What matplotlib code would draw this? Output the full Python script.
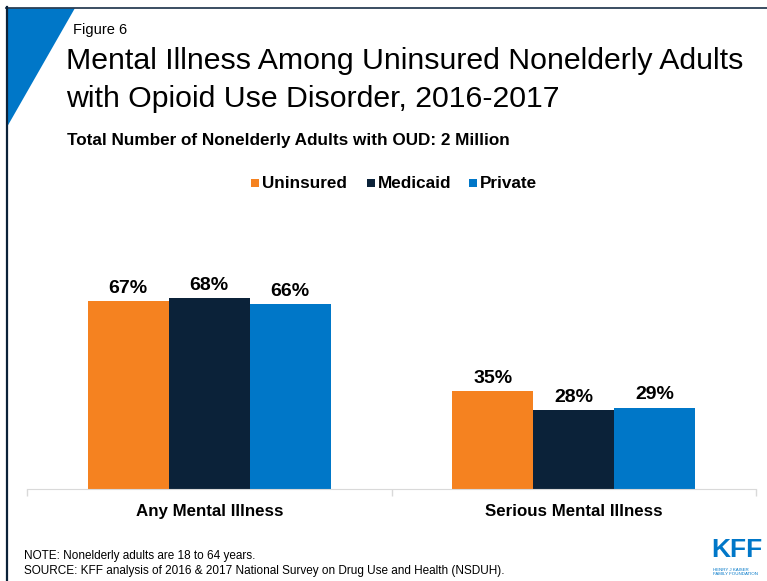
import numpy as np
import matplotlib.pyplot as plt
from matplotlib.patches import Polygon
from matplotlib.lines import Line2D

categories = ["Any Mental Illness", "Serious Mental Illness"]
series = ["Uninsured", "Medicaid", "Private"]
uninsured = [67, 35]
medicaid = [68, 28]
private = [66, 29]
colors = ["#F58220", "#0B2239", "#0077C8"]

W, H = 767, 581
fig = plt.figure(figsize=(W / 100, H / 100), dpi=100)

def fx(px):
    return px / W

def fy(py):
    return 1 - py / H

sans = ["Liberation Sans", "DejaVu Sans"]

# frame and corner triangle
fig.add_artist(Polygon([(fx(7), fy(8)), (fx(75), fy(8)), (fx(7), fy(127))],
                       closed=True, transform=fig.transFigure, color="#0077C8", lw=0))
fig.add_artist(Line2D([fx(6), fx(767)], [fy(7.5), fy(7.5)], transform=fig.transFigure,
                      color="#2B3F55", lw=1.3))
fig.add_artist(Line2D([fx(6.5), fx(6.5)], [fy(7), fy(581)], transform=fig.transFigure,
                      color="#0B2239", lw=1.6))

fig.text(fx(73), fy(30), "Figure 6", fontsize=10.5, family=sans, va="center", ha="left")
fig.text(fx(66), fy(61), "Mental Illness Among Uninsured Nonelderly Adults",
         fontsize=21.8, family=sans, va="center", ha="left")
fig.text(fx(66), fy(99), "with Opioid Use Disorder, 2016-2017",
         fontsize=21.8, family=sans, va="center", ha="left")
fig.text(fx(67), fy(140), "Total Number of Nonelderly Adults with OUD: 2 Million",
         fontsize=12.3, fontweight="bold", family=sans, va="center", ha="left")

# legend
leg_sq = [251, 367, 469]
for x0, name, c in zip(leg_sq, series, colors):
    fig.add_artist(plt.Rectangle((fx(x0), fy(187)), fx(8), 8 / H, transform=fig.transFigure,
                                 color=c, lw=0))
    fig.text(fx(x0 + 11), fy(183), name, fontsize=12.3, fontweight="bold", family=sans,
             va="center", ha="left")

# bars
ax = fig.add_axes([fx(27), fy(489), fx(756) - fx(27), 280.6 / H])
x = np.arange(len(categories))
bw = 0.2222
for i, (vals, c) in enumerate(zip([uninsured, medicaid, private], colors)):
    pos = x + (i - 1) * bw
    ax.bar(pos, vals, width=bw, color=c, lw=0)
    for p, v in zip(pos, vals):
        ax.annotate(f"{v}%", (p, v), xytext=(0, 3), textcoords="offset points",
                    ha="center", va="bottom", fontsize=14, fontweight="bold", family=sans)

ax.set_xlim(-0.5, 1.5)
ax.set_ylim(0, 100)
ax.set_yticks([])
ax.set_xticks(x)
ax.set_xticklabels(categories, fontsize=12.2, fontweight="bold", family=sans)
ax.tick_params(axis="x", which="major", length=0, pad=11)
ax.set_xticks([-0.5, 0.5, 1.5], minor=True)
ax.tick_params(axis="x", which="minor", length=5, color="#D9D9D9", width=1)
for s in ["top", "right", "left"]:
    ax.spines[s].set_visible(False)
ax.spines["bottom"].set_color("#D9D9D9")

# notes
fig.text(fx(24), fy(556), "NOTE: Nonelderly adults are 18 to 64 years.",
         fontsize=8.5, family=sans, va="center", ha="left")
fig.text(fx(24), fy(571), "SOURCE: KFF analysis of 2016 & 2017 National Survey on Drug Use and Health (NSDUH).",
         fontsize=8.5, family=sans, va="center", ha="left")

# logo
fig.text(fx(737), fy(550), "KFF", fontsize=19, fontweight="bold", family=sans,
         color="#0077C8", va="center", ha="center")
fig.text(fx(713), fy(572), "HENRY J KAISER\nFAMILY FOUNDATION", fontsize=3.2, family=sans,
         color="#0077C8", va="center", ha="left", linespacing=1.0)

fig.savefig("out.png", dpi=100)
